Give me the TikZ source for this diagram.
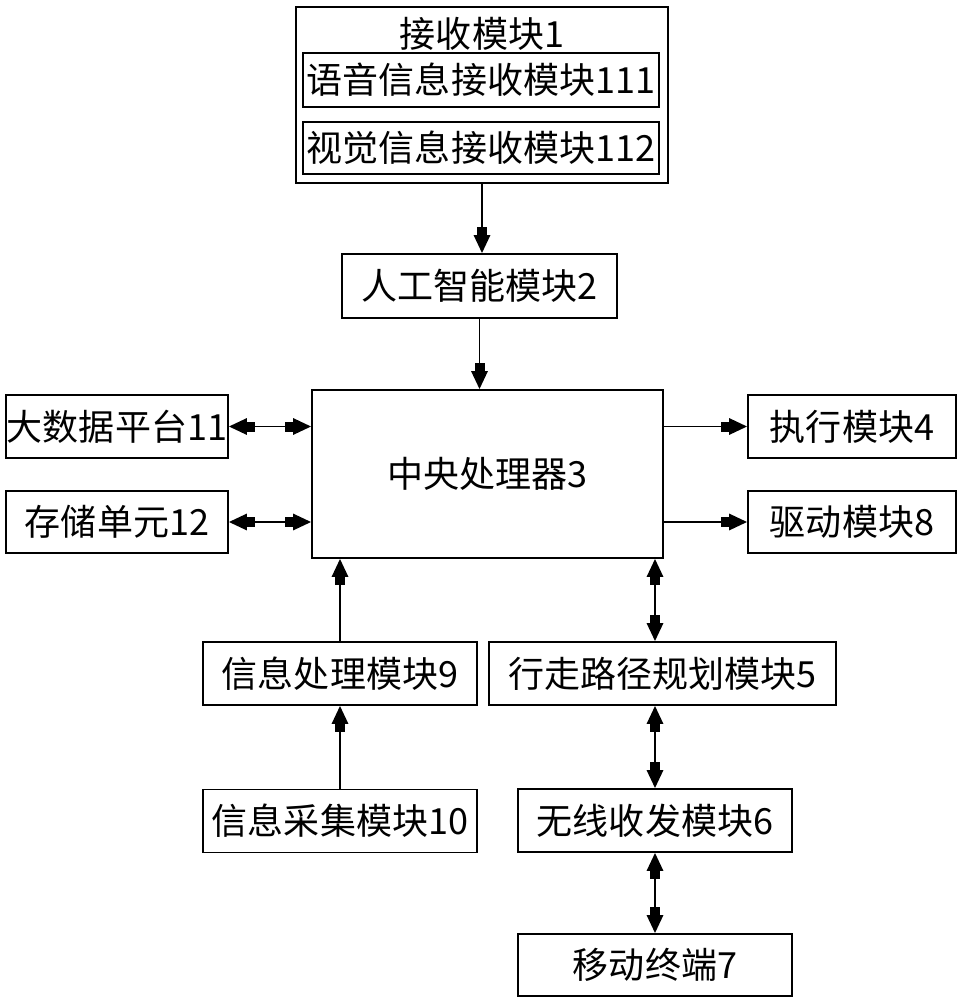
\documentclass[tikz,border=0pt]{standalone}
\usepackage{fontspec}
\newfontfamily\cjk{Noto Sans CJK SC}
\usetikzlibrary{arrows.meta}
\tikzset{box/.style={draw, line width=1.1pt, inner sep=0pt, font=\cjk\fontsize{20.5}{24}\selectfont}}
\tikzset{link/.style={black, line width=1pt}}

\begin{document}
\begin{tikzpicture}[x=0.2mm, y=-0.2mm, >={Rectangle[length=1.6mm,width=2mm] Triangle[length=3.6mm,width=3.3mm]}]
\useasboundingbox (0,0) rectangle (963,1000);
% receiving module with its two parts
\node[box, minimum width=74.4mm, minimum height=35.2mm] (recv) at (482,95) {};
\node[box, draw=none] (recvtitle) at (482,34) {接收模块1};
\node[box, minimum width=71.2mm, minimum height=10.8mm] (voice) at (481,80) {语音信息接收模块111};
\node[box, minimum width=71.2mm, minimum height=10.4mm] (visual) at (481,148) {视觉信息接收模块112};
% middle column
\node[box, minimum width=55mm, minimum height=12.8mm] (ai) at (479.5,286) {人工智能模块2};
\node[box, minimum width=70.2mm, minimum height=33.6mm] (cpu) at (487.5,474) {中央处理器3};
% left and right
\node[box, minimum width=44.4mm, minimum height=12.6mm] (bigdata) at (117,426.5) {大数据平台11};
\node[box, minimum width=44.4mm, minimum height=12.4mm] (storage) at (117,522) {存储单元12};
\node[box, minimum width=41.6mm, minimum height=12.6mm] (exec) at (852,426.5) {执行模块4};
\node[box, minimum width=41.6mm, minimum height=12.4mm] (drive) at (852,522) {驱动模块8};
% lower part
\node[box, minimum width=54.8mm, minimum height=12.6mm] (infoproc) at (340,673.5) {信息处理模块9};
\node[box, minimum width=69.4mm, minimum height=12.6mm] (path) at (662.5,673.5) {行走路径规划模块5};
\node[box, minimum width=54.8mm, minimum height=12.6mm] (infocoll) at (340,821) {信息采集模块10};
\node[box, minimum width=54.8mm, minimum height=12.6mm] (wireless) at (655,820.5) {无线收发模块6};
\node[box, minimum width=54.8mm, minimum height=12.4mm] (mobile) at (655,965) {移动终端7};

\draw[link, ->] (recv.south) -- (recv.south |- ai.north);
\draw[link, ->] (ai.south) -- (ai.south |- cpu.north);
\foreach \n in {bigdata,storage}
 \draw[link, <->] (\n.east) -- (\n.east -| cpu.west);
\foreach \n in {exec,drive}
 \draw[link, ->] (\n.west -| cpu.east) -- (\n.west);
\draw[link, ->] (infoproc.north) -- (infoproc.north |- cpu.south);
\draw[link, ->] (infocoll.north) -- (infoproc.south);
\draw[link, <->] (wireless.north |- cpu.south) -- (wireless.north |- path.north);
\draw[link, <->] (wireless.north |- path.south) -- (wireless.north);
\draw[link, <->] (wireless.south) -- (mobile.north);
\end{tikzpicture}
\end{document}
